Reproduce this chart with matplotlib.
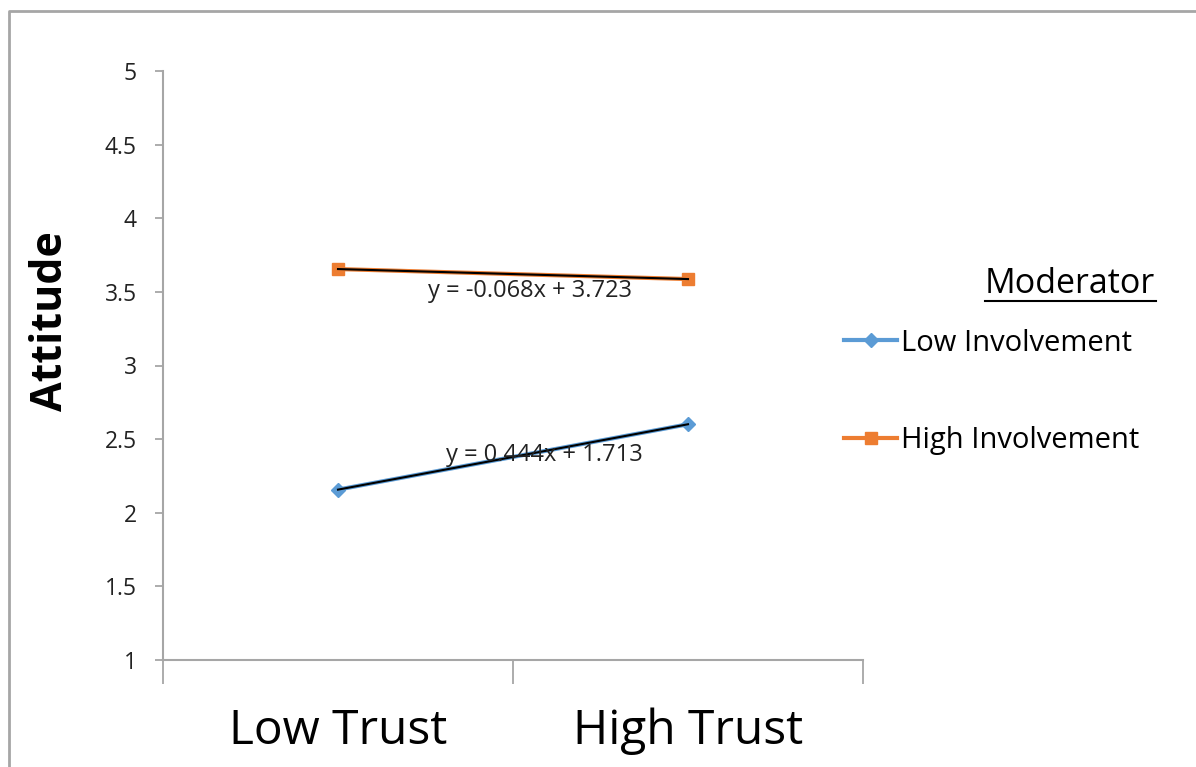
import numpy as np
import matplotlib
matplotlib.use("Agg")
import matplotlib.pyplot as plt
from matplotlib.lines import Line2D

plt.rcParams['font.family'] = ['Open Sans', 'DejaVu Sans']

# Data
categories = ["Low Trust", "High Trust"]
low_involvement = [2.157, 2.601]
high_involvement = [3.655, 3.587]
series_names = ["Low Involvement", "High Involvement"]
y_ticks = [1, 1.5, 2, 2.5, 3, 3.5, 4, 4.5, 5]
y_tick_labels = ["1", "1.5", "2", "2.5", "3", "3.5", "4", "4.5", "5"]

blue = "#5B9BD5"
orange = "#ED7D31"
axis_grey = "#A6A6A6"

W, H = 1196, 767
fig = plt.figure(figsize=(W / 100, H / 100), dpi=100)
ax = fig.add_axes([163 / W, 1 - 660 / H, 700 / W, 589 / H])

x = np.arange(1, len(categories) + 1)
ax.plot(x, low_involvement, color=blue, lw=3, marker="D", ms=7,
        mec=blue, mfc=blue, zorder=3, label=series_names[0])
ax.plot(x, high_involvement, color=orange, lw=3, marker="s", ms=9,
        mec=orange, mfc=orange, zorder=3, label=series_names[1])

# Linear trendlines with their equations
for vals, tx, ty in [(low_involvement, 1.59, 2.39), (high_involvement, 1.55, 3.505)]:
    m, b = np.polyfit(x, vals, 1)
    ax.plot(x, m * x + b, color="black", lw=1.5, zorder=4)
    sign = "+" if b >= 0 else "-"
    ax.text(tx, ty, f"y = {m:.3f}x {sign} {abs(b):.3f}", ha="center", va="center",
            fontsize=17, color="#222222", zorder=5)

ax.set_xlim(0.5, 2.5)
ax.set_ylim(1, 5)
ax.set_yticks(y_ticks)
ax.set_yticklabels(y_tick_labels, fontsize=16.5, color="#222222")
ax.set_xticks([0.5, 1.5, 2.5], minor=False)
ax.set_xticklabels([])
ax.set_xticks(x, minor=True)
ax.set_xticklabels(categories, minor=True, fontsize=34.5, color="black")
ax.tick_params(axis="x", which="major", direction="out", length=17, width=1.3,
               color=axis_grey)
ax.tick_params(axis="x", which="minor", length=0, pad=34)
ax.tick_params(axis="y", direction="out", length=6, width=1.3, color=axis_grey, pad=13)

for side in ["top", "right"]:
    ax.spines[side].set_visible(False)
for side in ["left", "bottom"]:
    ax.spines[side].set_color(axis_grey)
    ax.spines[side].set_linewidth(1.5)

fig.text(51 / W, 1 - 321 / H, "Attitude", rotation=90, ha="center", va="center",
         fontsize=31, fontweight="bold")

# Legend
handles = [Line2D([], [], color=blue, lw=3, marker="D", ms=7),
           Line2D([], [], color=orange, lw=3, marker="s", ms=9)]
fig.legend(handles, series_names, loc="center left",
           bbox_to_anchor=(818 / W, 1 - 392 / H), frameon=False,
           fontsize=21, handlelength=1.8, handletextpad=0.15,
           labelspacing=2.36)
fig.text(1155 / W, 1 - 284 / H, "Moderator", ha="right", va="center",
         fontsize=24.5)
fig.add_artist(Line2D([985 / W, 1156 / W], [1 - 301 / H, 1 - 301 / H],
                      color="black", lw=1.5, transform=fig.transFigure))

# Chart area border
fig.add_artist(Line2D([9 / W, 9 / W, 1.0], [0.0, 1 - 11 / H, 1 - 11 / H],
                      color=axis_grey, lw=2, transform=fig.transFigure))

fig.savefig("out.png", dpi=100)
